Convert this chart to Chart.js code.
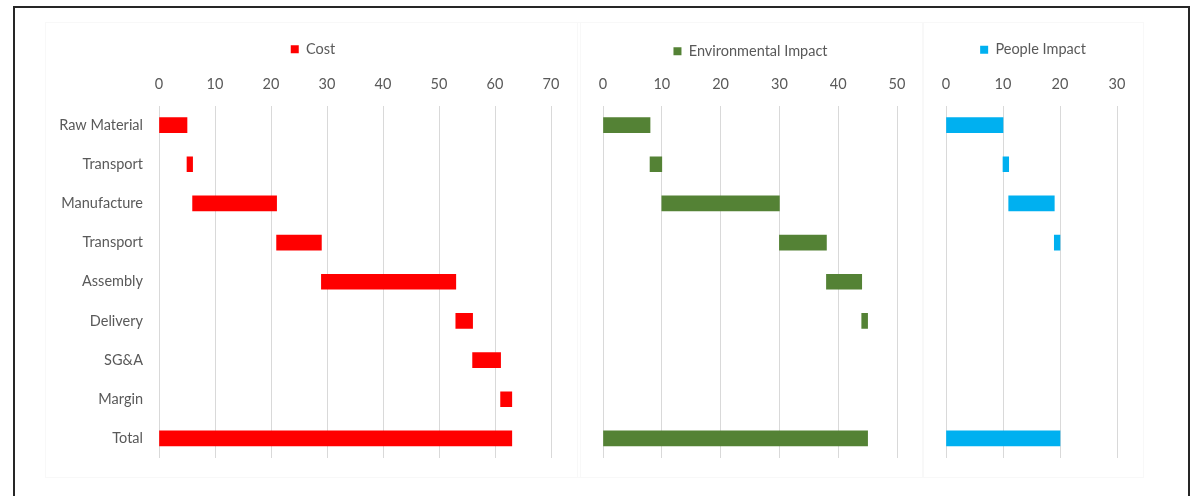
<!DOCTYPE html>
<html><head><meta charset="utf-8">
<script src="https://cdn.jsdelivr.net/npm/chart.js@4.4.0/dist/chart.umd.min.js"></script>
<style>
html,body{margin:0;padding:0;background:#fff;width:1197px;height:496px;overflow:hidden;}
#frame{position:absolute;left:13px;top:6px;width:1177px;height:600px;border:2px solid #262626;box-sizing:border-box;}
.box{position:absolute;top:23px;height:454px;outline:1px solid #f8f8f8;}
</style></head><body>
<div id="frame"></div>
<div class="box" style="left:46px;width:534px"><canvas id="c1"></canvas></div>
<div class="box" style="left:578px;width:345px"><canvas id="c2"></canvas></div>
<div class="box" style="left:923px;width:220px"><canvas id="c3"></canvas></div>
<script>
const categories = ["Raw Material","Transport","Manufacture","Transport","Assembly","Delivery","SG&A","Margin","Total"];
const costFrom   = [0, 5, 6, 21, 29, 53, 56, 61, 0];
const costTo     = [5, 6, 21, 29, 53, 56, 61, 63, 63];
const envFrom    = [0, 8, 10, 30, 38, 44, null, null, 0];
const envTo      = [8, 10, 30, 38, 44, 45, null, null, 45];
const peopleFrom = [0, 10, 11, 19, null, null, null, null, 0];
const peopleTo   = [10, 11, 19, 20, null, null, null, null, 20];
const costTicksMax = 70, envTicksMax = 50, peopleTicksMax = 30;

const FONT = {family: "Lato, 'Open Sans', sans-serif", size: 14.5};
const TXT = '#595959';

function ranges(a, b){ return a.map((v,i)=> v===null ? null : [v, b[i]]); }

function makeChart(id, label, color, from, to, max, showY, padL, padR, padTop){
  return new Chart(document.getElementById(id), {
    type: 'bar',
    data: {
      labels: categories,
      datasets: [{
        label: label,
        data: ranges(from, to),
        backgroundColor: color,
        borderWidth: 0,
        barThickness: 15,
        borderSkipped: false
      }]
    },
    options: {
      indexAxis: 'y',
      responsive: true,
      maintainAspectRatio: false,
      animation: false,
      layout: {padding: {top: padTop, bottom: 19, left: 0, right: 0}},
      plugins: {
        legend: {
          display: true,
          position: 'top',
          labels: {boxWidth: 8, boxHeight: 8, padding: 10, color: TXT, font: FONT}
        },
        tooltip: {enabled: false}
      },
      scales: {
        x: {
          position: 'top',
          min: 0, max: max,
          ticks: {stepSize: 10, color: TXT, font: FONT, padding: 12},
          grid: {color: '#d9d9d9', drawTicks: false, lineWidth: 1},
          border: {display: false},
          afterFit: s => { s.height = 48 - padTop; s.paddingLeft = padL; s.paddingRight = padR; }
        },
        y: {
          display: showY,
          ticks: {color: TXT, font: FONT, padding: 16},
          grid: {display: false, drawTicks: false},
          border: {display: false},
          afterFit: s => { if (showY) { s.width = 113; } s.paddingTop = 0; s.paddingBottom = 0; }
        }
      }
    }
  });
}

makeChart('c1', 'Cost', '#FF0000', costFrom, costTo, costTicksMax, true, 0, 29, 9);
makeChart('c2', 'Environmental Impact', '#548235', envFrom, envTo, envTicksMax, false, 25, 26, 11);
makeChart('c3', 'People Impact', '#00B0F0', peopleFrom, peopleTo, peopleTicksMax, false, 23, 26, 9.5);
</script>
</body></html>
